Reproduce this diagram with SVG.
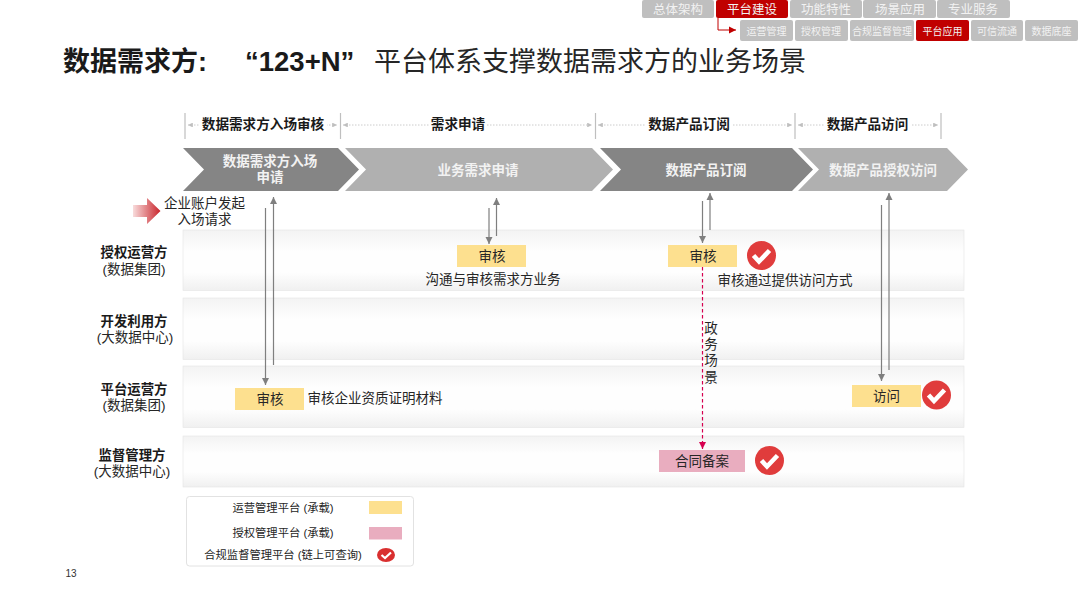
<svg xmlns="http://www.w3.org/2000/svg" width="1080" height="608" viewBox="0 0 1080 608">
<style>
text{font-family:"Liberation Sans","Noto Sans CJK SC",sans-serif;fill:#262626;text-anchor:middle}
.tab{fill:#bfbfbf}.tabon{fill:#c00000}
.t1{font-size:12.5px;fill:#f2f2f2}.t2{font-size:10px;fill:#f2f2f2}
.ph{font-size:13.600px;font-weight:bold;fill:#1a1a1a}
.chev{font-size:13.500px;font-weight:bold;fill:#f2f2f2}
.lane{fill:url(#lane);stroke:#e4e4e4;stroke-width:.6}
.role{font-size:13.400px;font-weight:bold;fill:#1a1a1a}
.sub{font-size:13.500px;fill:#262626}
.lbl{font-size:13.500px}
.y{fill:#fde08f}.p{fill:#e9adbf}
.tick{stroke:#bfbfbf;stroke-width:1.2;fill:none}
.dot{stroke:#bfbfbf;stroke-width:.8;stroke-dasharray:1.5 1.5;fill:none;marker-start:url(#sg);marker-end:url(#eg)}
.ar{stroke:#7f7f7f;stroke-width:1.2;fill:none}
.leg{font-size:11.300px}
</style>
<defs>
<linearGradient id="lane" x1="0" y1="0" x2="0" y2="1"><stop offset="0" stop-color="#f3f3f3"/><stop offset=".35" stop-color="#fefefe"/><stop offset=".7" stop-color="#fefefe"/><stop offset="1" stop-color="#f0f0f0"/></linearGradient>
<linearGradient id="red" x1="0" y1="0" x2="1" y2="0"><stop offset="0" stop-color="#f8dcdc"/><stop offset="1" stop-color="#c9242b"/></linearGradient>
<marker id="sg" markerWidth="7" markerHeight="6" refX="1" refY="3" orient="auto"><path d="M7 0L1 3L7 6Z" fill="#bfbfbf"/></marker>
<marker id="eg" markerWidth="7" markerHeight="6" refX="6" refY="3" orient="auto"><path d="M0 0L6 3L0 6Z" fill="#bfbfbf"/></marker>
<marker id="ga" markerUnits="userSpaceOnUse" markerWidth="8" markerHeight="8" refX="7" refY="4" orient="auto"><path d="M0 .5L7 4L0 7.5Z" fill="#7f7f7f"/></marker>
<marker id="ra" markerUnits="userSpaceOnUse" markerWidth="8" markerHeight="8" refX="7" refY="4" orient="auto"><path d="M0 .5L7 4L0 7.5Z" fill="#d6004f"/></marker>
<marker id="rt" markerUnits="userSpaceOnUse" markerWidth="8" markerHeight="8" refX="7" refY="4" orient="auto"><path d="M0 .5L7 4L0 7.5Z" fill="#c00000"/></marker>
<g id="chk"><circle r="14.5" fill="#e03c3c"/><path d="M-8 0L-2.500 6L8 -5" fill="none" stroke="#fff" stroke-width="4.600"/></g>
</defs>
<rect width="1080" height="608" fill="#fff"/>

<g id="nav">
<rect class="tab" x="642" y="0" width="72" height="18" rx="2"/><text class="t1" x="678" y="14">总体架构</text>
<rect class="tabon" x="716" y="0" width="72" height="18" rx="2"/><text class="t1" x="752" y="14">平台建设</text>
<rect class="tab" x="790" y="0" width="72" height="18" rx="2"/><text class="t1" x="826" y="14">功能特性</text>
<rect class="tab" x="863" y="0" width="73" height="18" rx="2"/><text class="t1" x="900" y="14">场景应用</text>
<rect class="tab" x="937" y="0" width="73" height="18" rx="2"/><text class="t1" x="973" y="14">专业服务</text>
<rect class="tab" x="740" y="20" width="53" height="21" rx="2"/><text class="t2" x="766.500" y="34.500">运营管理</text>
<rect class="tab" x="795" y="20" width="53" height="21" rx="2"/><text class="t2" x="821" y="34.500">授权管理</text>
<rect class="tab" x="850" y="20" width="64" height="21" rx="2"/><text class="t2" x="882" y="34.500">合规监督管理</text>
<rect class="tabon" x="916" y="20" width="53" height="21" rx="2"/><text class="t2" x="942.500" y="34.500">平台应用</text>
<rect class="tab" x="971" y="20" width="52" height="21" rx="2"/><text class="t2" x="997" y="34.500">可信流通</text>
<rect class="tab" x="1025" y="20" width="53" height="21" rx="2"/><text class="t2" x="1051.500" y="34.500">数据底座</text>
</g>

<g id="title">
<text x="63" y="71" font-size="27" font-weight="bold" style="text-anchor:start;fill:#1a1a1a">数据需求方:</text>
<text x="245" y="71" font-size="27.500" font-weight="bold" style="text-anchor:start;fill:#1a1a1a">“123+N”</text>
<text x="374" y="71" font-size="27" style="text-anchor:start;fill:#262626">平台体系支撑数据需求方的业务场景</text>
</g>

<g id="lanes">
<rect class="lane" x="183" y="230" width="781" height="60.500"/>
<rect class="lane" x="183" y="298" width="781" height="61.500"/>
<rect class="lane" x="183" y="366" width="781" height="61.500"/>
<rect class="lane" x="183" y="436" width="781" height="51"/>
</g>

<g id="phases">
<path class="tick" d="M185 113V139M340.500 113V139M595.500 113V139M795 113V139M941 113V139"/>
<line class="dot" x1="188" y1="125" x2="337" y2="125"/>
<line class="dot" x1="343" y1="125" x2="592" y2="125"/>
<line class="dot" x1="598" y1="125" x2="792" y2="125"/>
<line class="dot" x1="798" y1="125" x2="938" y2="125"/>
<rect x="199" y="115" width="128" height="18" fill="#fff"/><text class="ph" x="263" y="129">数据需求方入场审核</text>
<rect x="429" y="115" width="58" height="18" fill="#fff"/><text class="ph" x="458" y="129">需求申请</text>
<rect x="646" y="115" width="86" height="18" fill="#fff"/><text class="ph" x="689" y="128.500">数据产品订阅</text>
<rect x="825" y="115" width="86" height="18" fill="#fff"/><text class="ph" x="867.500" y="128.500">数据产品访问</text>
</g>

<g id="chevrons">
<path d="M183 148H338L359 169.500L338 191H183L204 169.500Z" fill="#858585"/>
<text class="chev" x="270" y="166">数据需求方入场</text><text class="chev" x="270" y="182">申请</text>
<path d="M345 148H592L613 169.500L592 191H345L366 169.500Z" fill="#b0b0b0"/>
<text class="chev" x="478" y="175">业务需求申请</text>
<path d="M600 148H792L813 169.500L792 191H600L621 169.500Z" fill="#858585"/>
<text class="chev" x="706" y="175">数据产品订阅</text>
<path d="M798 148H947L968 169.500L947 191H798L819 169.500Z" fill="#b0b0b0"/>
<text class="chev" x="883" y="175">数据产品授权访问</text>
</g>

<g id="start">
<path d="M133 205H147V198L160.500 211L147 224V217H133Z" fill="url(#red)"/>
<text class="lbl" x="204.500" y="208">企业账户发起</text>
<text class="lbl" x="204.500" y="224">入场请求</text>
</g>

<g id="roles">
<text class="role" x="134" y="257">授权运营方</text><text class="sub" x="134" y="274">(数据集团)</text>
<text class="role" x="134" y="326">开发利用方</text><text class="sub" x="135" y="342">(大数据中心)</text>
<text class="role" x="134" y="394">平台运营方</text><text class="sub" x="134" y="410">(数据集团)</text>
<text class="role" x="132" y="460">监督管理方</text><text class="sub" x="132" y="476">(大数据中心)</text>
</g>

<g id="connectors">
<path class="ar" d="M265.500 208V385" marker-end="url(#ga)"/>
<path class="ar" d="M273.500 365V197" marker-end="url(#ga)"/>
<path class="ar" d="M489 208V244" marker-end="url(#ga)"/>
<path class="ar" d="M496.500 236V198" marker-end="url(#ga)"/>
<path class="ar" d="M702.500 201V243" marker-end="url(#ga)"/>
<path class="ar" d="M710 230V193" marker-end="url(#ga)"/>
<path class="ar" d="M881.500 205V381" marker-end="url(#ga)"/>
<path class="ar" d="M889 370V193" marker-end="url(#ga)"/>
<path d="M702.500 267V449" fill="none" stroke="#d6004f" stroke-width="1.200" stroke-dasharray="3.500 2.500" marker-end="url(#ra)"/>
<path d="M718 18V30H736" fill="none" stroke="#c00000" stroke-width="1" marker-end="url(#rt)"/>
</g>

<g id="n1"><rect class="y" x="235" y="388" width="69" height="22"/><text class="lbl" x="270" y="403.500">审核</text></g>
<text class="lbl" x="375" y="403">审核企业资质证明材料</text>
<g id="n2"><rect class="y" x="457" y="245" width="69" height="22"/><text class="lbl" x="492" y="260.500">审核</text></g>
<text class="lbl" x="493" y="284">沟通与审核需求方业务</text>
<g id="n3"><rect class="y" x="668" y="245" width="69" height="22"/><text class="lbl" x="703" y="260.500">审核</text><use href="#chk" x="761.500" y="255.500"/></g>
<text class="lbl" x="785" y="285">审核通过提供访问方式</text>
<g id="n4"><text class="lbl" x="711" y="333">政</text><text class="lbl" x="711" y="349">务</text><text class="lbl" x="711" y="365">场</text><text class="lbl" x="711" y="382">景</text></g>
<g id="n5"><rect class="y" x="852" y="385" width="69" height="22"/><text class="lbl" x="886.500" y="401">访问</text><use href="#chk" x="936.500" y="395"/></g>
<g id="n6"><rect class="p" x="659" y="450" width="86" height="22"/><text class="lbl" x="702" y="466">合同备案</text><use href="#chk" x="769.500" y="460.500"/></g>

<g id="legend">
<rect x="186.500" y="496.500" width="227" height="69.500" rx="3" fill="#fff" stroke="#e2e2e2"/>
<text class="leg" x="283" y="512">运营管理平台 (承载)</text>
<rect class="y" x="369" y="501" width="33" height="13"/>
<text class="leg" x="283" y="537">授权管理平台 (承载)</text>
<rect class="p" x="369" y="527" width="33" height="12.500"/>
<text class="leg" x="283" y="559">合规监督管理平台 (链上可查询)</text>
<ellipse cx="386" cy="555" rx="9" ry="7" fill="#d92f2f"/>
<path d="M381.500 555L385 558L391 552.500" fill="none" stroke="#fff" stroke-width="2.200"/>
</g>

<text x="71" y="577" font-size="10" style="fill:#333">13</text>
</svg>
